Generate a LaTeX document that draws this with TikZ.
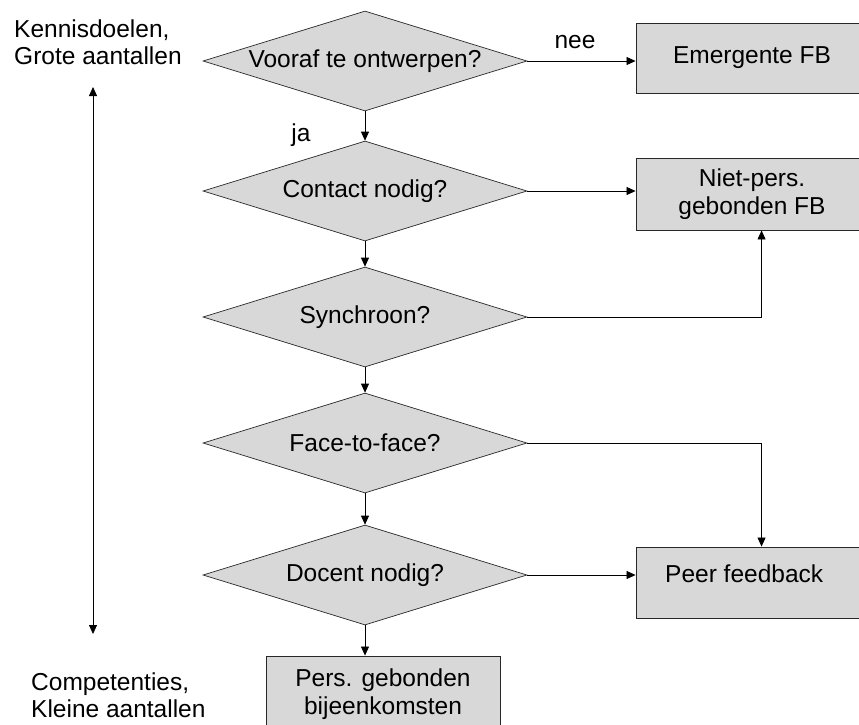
\documentclass[tikz,border=0pt]{standalone}
\usepackage{fontspec}
\setmainfont{Liberation Sans}
\usetikzlibrary{shapes.geometric,arrows.meta,calc}
\definecolor{shade}{RGB}{216,216,216}
\definecolor{edge}{RGB}{40,40,40}
\begin{document}
\begin{tikzpicture}[x=1pt,y=-1pt,
  every node/.style={font=\fontsize{24.5}{27.5}\selectfont},
  dec/.style={diamond, draw=edge, fill=shade, aspect=3.24, minimum width=324pt, minimum height=100pt, inner sep=0pt, line width=0.7pt},
  fbbox/.style={rectangle, draw=edge, fill=shade, minimum width=232pt, inner sep=0pt, align=center, line width=0.9pt},
  conn/.style={draw=black, line width=0.8pt, -{Triangle[length=9pt,width=8pt]}},
  lab/.style={inner sep=0pt}]
\path[use as bounding box, clip] (0,0) rectangle (859,724);

% decisions
\node[dec] (d1) at (365,61) {Vooraf te ontwerpen?};
\node[dec] (d2) at (365,191) {Contact nodig?};
\node[dec] (d3) at (365,317) {Synchroon?};
\node[dec] (d4) at (365,443) {Face-to-face?};
\node[dec] (d5) at (365,575) {Docent nodig?};

% outcome boxes
\node[fbbox, minimum height=70pt] (b1) at (752,58) {Emergente FB};
\node[fbbox, minimum height=72pt] (b2) at (752,194) {Niet-pers.\\gebonden FB};
\node[fbbox, minimum height=71pt] (b3) at (752,582.5) {};
\node[lab, anchor=west] (b3t) at (665,574) {Peer feedback};
\node[fbbox, minimum width=234pt, minimum height=76pt] (b4) at (383,694) {Pers. gebonden\\bijeenkomsten};

% side texts
\node[lab, anchor=west, align=left] (top) at (14,42) {Kennisdoelen,\\Grote aantallen};
\node[lab, anchor=west, align=left] (bot) at (31,695) {Competenties,\\Kleine aantallen};
\coordinate (ua) at (93,87);
\coordinate (la) at (93,634);
\draw[line width=0.8pt, {Triangle[length=9pt,width=8pt]}-{Triangle[length=9pt,width=8pt]}] (ua) -- (la);

% connectors
\draw[conn] (d1.east) -- (d1.east -| b1.west);
\node[lab] (nee) at (575,42) {nee};
\draw[conn] (d1.south) -- (d2.north);
\node[lab] (ja) at (301,135) {ja};
\draw[conn] (d2.east) -- (d2.east -| b2.west);
\draw[conn] (d2.south) -- (d3.north);
\draw[conn] (d3.east) -| ($(b2.south west)+(126,0)$);
\draw[conn] (d3.south) -- (d4.north);
\draw[conn] (d4.east) -| ($(b3.north west)+(126,0)$);
\draw[conn] (d4.south) -- (d5.north);
\draw[conn] (d5.east) -- (d5.east -| b3.west);
\draw[conn] (d5.south) -- (d5.south |- b4.north);
\end{tikzpicture}
\end{document}
